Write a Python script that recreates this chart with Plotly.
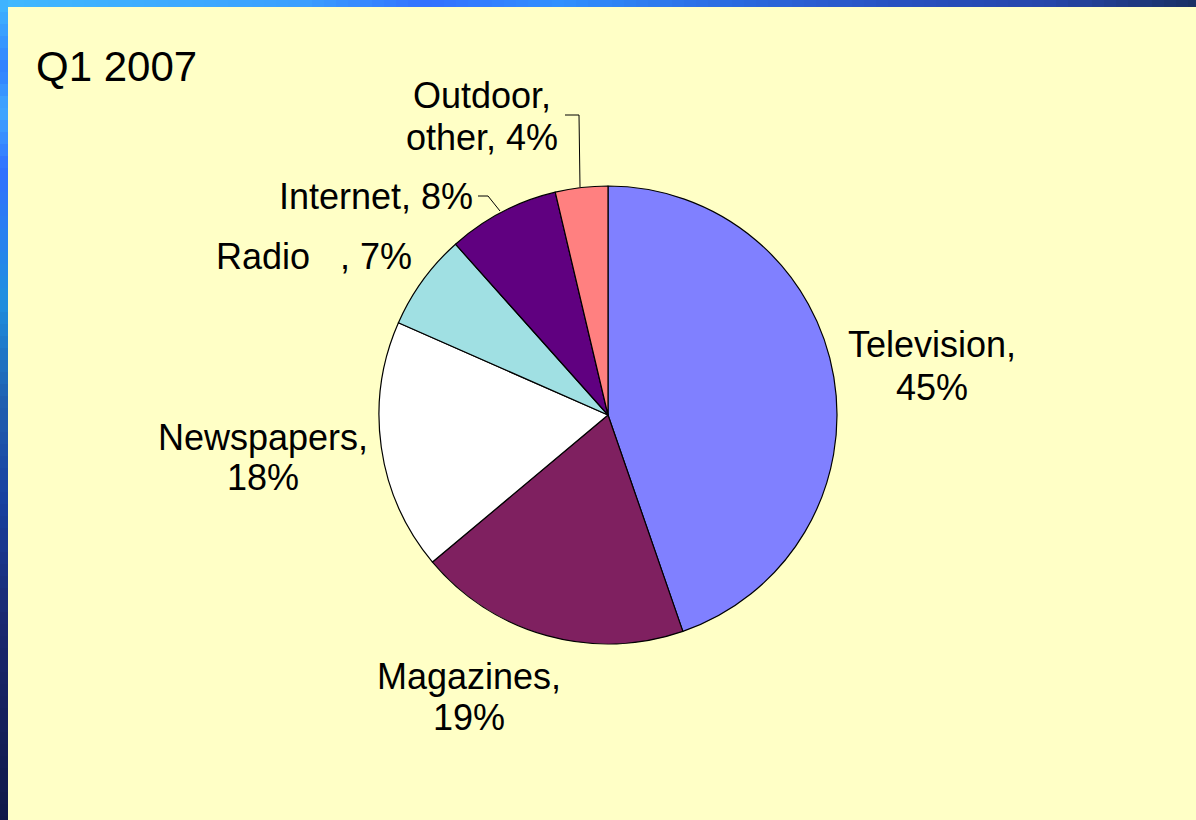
import plotly.graph_objects as go

# ---- data ----
categories = ["Television", "Magazines", "Newspapers", "Radio", "Internet", "Outdoor, other"]
shares = [44.7, 19.2, 17.7, 6.8, 7.9, 3.7]
label_pct = ["45%", "19%", "18%", "7%", "8%", "4%"]
colors = ["#8080FF", "#7F2060", "#FFFFFF", "#A0E0E3", "#600080", "#FF8080"]
title_text = "Q1 2007"

W, H = 1196, 820
BG = "#FFFFC6"

fig = go.Figure()
fig.add_trace(go.Pie(
    labels=categories,
    values=shares,
    sort=False,
    direction="clockwise",
    rotation=0,
    textinfo="none",
    hoverinfo="label+percent",
    marker=dict(colors=colors, line=dict(color="#000000", width=1.2)),
    domain=dict(x=[379 / W, 837 / W], y=[1 - 644 / H, 1 - 186 / H]),
    showlegend=False,
))

FONT = "Liberation Sans, Arial, sans-serif"

def px(x):
    return x / W

def py(y):
    return 1 - y / H

# label layout: list of (centre x, centre y, line text) per category
label_lines = {
    "Television": [(932, 345, "Television,"), (932, 387, "{pct}")],
    "Magazines": [(469, 676, "Magazines,"), (469, 717, "{pct}")],
    "Newspapers": [(263, 437, "Newspapers,"), (263, 478, "{pct}")],
    "Radio": [(314, 256, "Radio\u00a0\u00a0\u00a0, {pct}")],
    "Internet": [(376, 196, "Internet, {pct}")],
    "Outdoor, other": [(482, 95, "Outdoor,"), (482, 137, "other, {pct}")],
}
annotations = []
for name, pct in zip(categories, label_pct):
    for x, y, txt in label_lines[name]:
        annotations.append(dict(
            x=px(x), y=py(y), xref="paper", yref="paper", text=txt.format(pct=pct),
            showarrow=False, xanchor="center", yanchor="middle",
            font=dict(family=FONT, size=36, color="#000000"), align="center",
        ))
annotations.append(dict(
    x=px(34), y=py(67), xref="paper", yref="paper", text=title_text,
    showarrow=False, xanchor="left", yanchor="middle",
    font=dict(family=FONT, size=42, color="#000000"),
))

shapes = []

def lerp_color(stops, t):
    for i in range(len(stops) - 1):
        t0, c0 = stops[i]
        t1, c1 = stops[i + 1]
        if t0 <= t <= t1:
            f = (t - t0) / (t1 - t0) if t1 > t0 else 0
            c = [round(c0[k] + (c1[k] - c0[k]) * f) for k in range(3)]
            return "rgb(%d,%d,%d)" % tuple(c)
    c = stops[-1][1]
    return "rgb(%d,%d,%d)" % tuple(c)

top_stops = [
    (0, (64, 184, 255)), (300, (58, 160, 255)), (430, (50, 112, 255)),
    (560, (48, 144, 255)), (700, (44, 112, 230)), (900, (40, 80, 192)),
    (1050, (38, 70, 170)), (1196, (26, 48, 100)),
]
left_stops = [
    (0, (64, 184, 255)), (70, (48, 128, 255)), (110, (64, 168, 255)),
    (170, (48, 112, 255)), (300, (32, 144, 224)), (400, (32, 96, 176)),
    (500, (24, 64, 160)), (620, (26, 40, 112)), (820, (16, 24, 72)),
]
step = 12
for x0 in range(0, W, step):
    x1 = min(x0 + step, W)
    shapes.append(dict(type="rect", xref="paper", yref="paper",
                       x0=px(x0), x1=px(x1), y0=py(7), y1=1,
                       fillcolor=lerp_color(top_stops, x0 + step / 2),
                       line=dict(width=0), layer="above"))
for y0 in range(0, H, step):
    y1 = min(y0 + step, H)
    shapes.append(dict(type="rect", xref="paper", yref="paper",
                       x0=0, x1=px(8), y0=py(y1), y1=py(y0),
                       fillcolor=lerp_color(left_stops, y0 + step / 2),
                       line=dict(width=0), layer="above"))

# leader lines
leader = dict(color="#000000", width=1)
shapes.append(dict(type="path", xref="paper", yref="paper",
                   path="M {} {} L {} {} L {} {}".format(px(478), py(196), px(488), py(196), px(500), py(211)),
                   line=leader))
shapes.append(dict(type="path", xref="paper", yref="paper",
                   path="M {} {} L {} {} L {} {}".format(px(565), py(115), px(579), py(115), px(580), py(187)),
                   line=leader))

fig.update_layout(
    width=W, height=H,
    margin=dict(l=0, r=0, t=0, b=0),
    paper_bgcolor=BG, plot_bgcolor=BG,
    annotations=annotations, shapes=shapes,
    showlegend=False,
)

fig.write_html("out.html", include_plotlyjs=True, config={"displayModeBar": False})
